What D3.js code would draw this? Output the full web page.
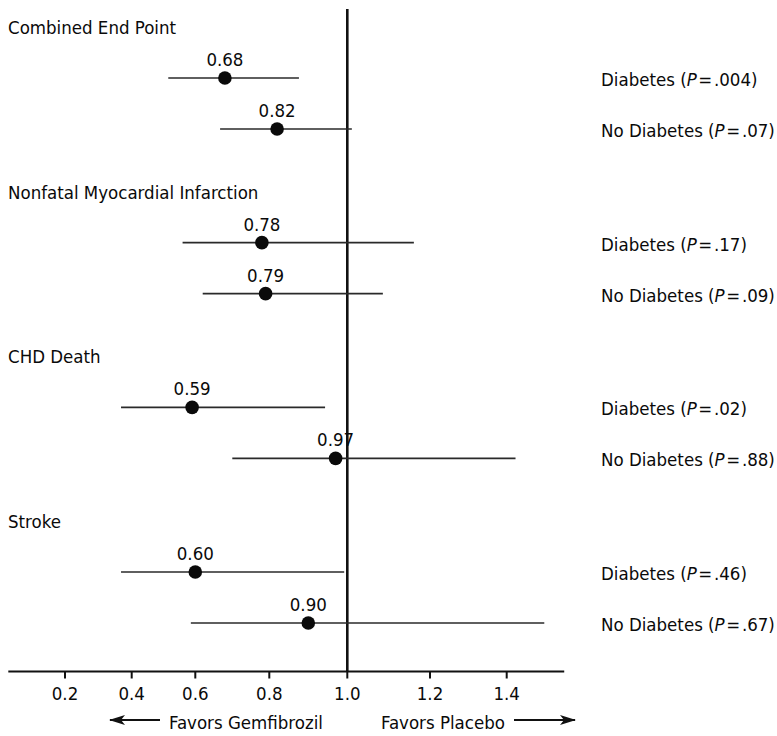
<!DOCTYPE html>
<html>
<head>
<meta charset="utf-8">
<script src="https://cdn.jsdelivr.net/npm/d3@7"></script>
<style>
  html, body { margin: 0; padding: 0; background: #fff; }
  svg text { font-family: "DejaVu Sans Condensed", "Liberation Sans", Arial, sans-serif; fill: #0a0a0a; }
</style>
</head>
<body>
<div id="chart"></div>
<script>
// Outcome groups and subgroups (row order top to bottom)
const groups = ["Combined End Point", "Nonfatal Myocardial Infarction", "CHD Death", "Stroke"];
const subgroups = ["Diabetes", "No Diabetes"];

// Relative risk estimates and 95% confidence limits, one entry per row
const relRisk = [0.68, 0.82, 0.78, 0.79, 0.59, 0.97, 0.60, 0.90];
const ciLow   = [0.515, 0.667, 0.560, 0.620, 0.368, 0.700, 0.368, 0.586];
const ciHigh  = [0.876, 1.011, 1.161, 1.086, 0.943, 1.423, 0.992, 1.498];
const pValues = [".004", ".07", ".17", ".09", ".02", ".88", ".46", ".67"];

// Axis ticks
const tickValues = [0.2, 0.4, 0.6, 0.8, 1.0, 1.2, 1.4];
const tickLabels = ["0.2", "0.4", "0.6", "0.8", "1.0", "1.2", "1.4"];

const width = 777, height = 736;
const fontSize = 18.5;

const rows = relRisk.map((v, i) => ({
  group: groups[Math.floor(i / 2)],
  sub: subgroups[i % 2],
  rr: v,
  lo: ciLow[i],
  hi: ciHigh[i],
  p: pValues[i]
}));

const svg = d3.select("#chart").append("svg")
  .attr("width", width)
  .attr("height", height);

// Horizontal scale: piecewise linear through the printed tick marks
const x = d3.scaleLinear()
  .domain(tickValues)
  .range([65, 131.7, 195.3, 269.3, 347.3, 430, 506.7]);

const axisY = 671.5;
const xMin = 0.03, xMax = 1.55;

// Vertical placement: groups, then the two subgroups within each group
const groupY = d3.scalePoint().domain(groups).range([78, 572]);
const subY = d3.scalePoint().domain(subgroups).range([0, 51]);
const rowY = d => groupY(d.group) + subY(d.sub);

// Group headings
svg.append("g").selectAll("text")
  .data(groups)
  .join("text")
  .attr("x", 8)
  .attr("y", g => groupY(g) - 51 + 7)
  .attr("font-size", fontSize)
  .text(g => g);

// Reference line at relative risk 1.0
svg.append("line")
  .attr("x1", x(1)).attr("x2", x(1))
  .attr("y1", 9).attr("y2", axisY)
  .attr("stroke", "#111")
  .attr("stroke-width", 2.6);

// Confidence interval whiskers
svg.append("g").selectAll("line")
  .data(rows)
  .join("line")
  .attr("x1", d => x(d.lo))
  .attr("x2", d => x(d.hi))
  .attr("y1", rowY).attr("y2", rowY)
  .attr("stroke", "#2a2a2a")
  .attr("stroke-width", 1.6);

// Point estimates
svg.append("g").selectAll("circle")
  .data(rows)
  .join("circle")
  .attr("cx", d => x(d.rr))
  .attr("cy", rowY)
  .attr("r", 6.8)
  .attr("fill", "#0a0a0a");

// Estimate labels above the points
svg.append("g").selectAll("text")
  .data(rows)
  .join("text")
  .attr("x", d => x(d.rr))
  .attr("y", d => rowY(d) - 12)
  .attr("text-anchor", "middle")
  .attr("font-size", fontSize)
  .text(d => d.rr.toFixed(2));

// Subgroup labels with P values on the right
const rl = svg.append("g").selectAll("text")
  .data(rows)
  .join("text")
  .attr("x", 601)
  .attr("y", d => rowY(d) + 8)
  .attr("font-size", fontSize);
rl.append("tspan").text(d => d.sub + " (");
rl.append("tspan").attr("font-style", "italic").text("P");
rl.append("tspan").text(d => "\u200A=\u200A" + d.p + ")");

// Bottom axis
const axis = svg.append("g");
axis.append("line")
  .attr("x1", x(xMin)).attr("x2", x(xMax))
  .attr("y1", axisY).attr("y2", axisY)
  .attr("stroke", "#111")
  .attr("stroke-width", 2.2);
axis.selectAll("line.tick")
  .data(tickValues)
  .join("line")
  .attr("class", "tick")
  .attr("x1", d => x(d)).attr("x2", d => x(d))
  .attr("y1", axisY).attr("y2", axisY + 7)
  .attr("stroke", "#111")
  .attr("stroke-width", 2);
axis.selectAll("text")
  .data(tickValues)
  .join("text")
  .attr("x", d => x(d))
  .attr("y", 699.5)
  .attr("text-anchor", "middle")
  .attr("font-size", fontSize)
  .text((d, i) => tickLabels[i]);

// Direction captions with arrows
const defs = svg.append("defs");
defs.append("marker")
  .attr("id", "head")
  .attr("viewBox", "0 0 16 11")
  .attr("refX", 15).attr("refY", 5.5)
  .attr("markerWidth", 16).attr("markerHeight", 11)
  .attr("markerUnits", "userSpaceOnUse")
  .attr("orient", "auto")
  .append("path")
  .attr("d", "M0,0.5 L16,5.5 L0,10.5 L4,5.5 Z")
  .attr("fill", "#111");

const capY = 720;
svg.append("line")
  .attr("x1", 160).attr("x2", 110)
  .attr("y1", capY).attr("y2", capY)
  .attr("stroke", "#111").attr("stroke-width", 2)
  .attr("marker-end", "url(#head)");
svg.append("text")
  .attr("x", 169).attr("y", capY + 9)
  .attr("font-size", fontSize)
  .text("Favors Gemfibrozil");
svg.append("text")
  .attr("x", 381).attr("y", capY + 9)
  .attr("font-size", fontSize)
  .text("Favors Placebo");
svg.append("line")
  .attr("x1", 514).attr("x2", 575)
  .attr("y1", capY).attr("y2", capY)
  .attr("stroke", "#111").attr("stroke-width", 2)
  .attr("marker-end", "url(#head)");
</script>
</body>
</html>
